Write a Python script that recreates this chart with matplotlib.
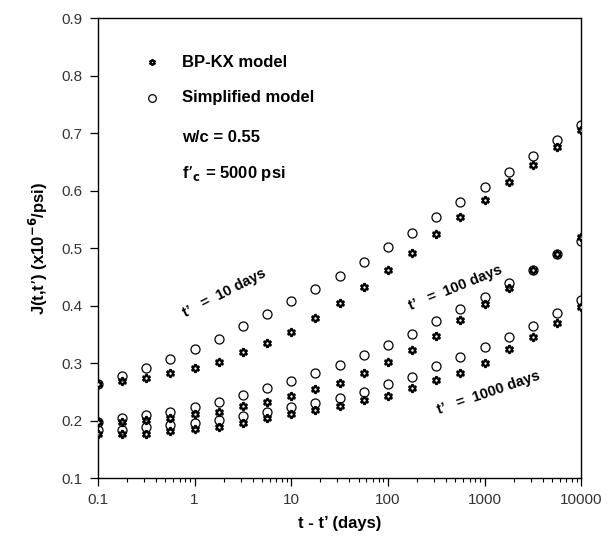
import numpy as np
import matplotlib.pyplot as plt
from matplotlib.ticker import FixedLocator, FuncFormatter

plt.rcParams['font.family'] = ['Liberation Sans', 'DejaVu Sans']

# load duration t - t' (days), 4 points per decade
t = [0.1, 0.178, 0.316, 0.562, 1, 1.78, 3.16, 5.62, 10, 17.8, 31.6, 56.2,
     100, 178, 316, 562, 1000, 1780, 3160, 5620, 10000]

# BP-KX model (stars)
bp_10 = [0.263, 0.269, 0.274, 0.282, 0.292, 0.301, 0.319, 0.334, 0.354, 0.378, 0.404,
         0.432, 0.461, 0.491, 0.524, 0.554, 0.584, 0.615, 0.644, 0.676, 0.706]
bp_100 = [0.198, 0.198, 0.201, 0.205, 0.211, 0.215, 0.225, 0.233, 0.243, 0.254, 0.266,
          0.282, 0.301, 0.323, 0.347, 0.374, 0.403, 0.431, 0.461, 0.489, 0.520]
bp_1000 = [0.176, 0.176, 0.177, 0.181, 0.185, 0.189, 0.196, 0.204, 0.211, 0.218, 0.226,
           0.236, 0.243, 0.256, 0.270, 0.283, 0.300, 0.325, 0.346, 0.370, 0.398]

# Simplified model (circles)
sm_10 = [0.263, 0.277, 0.291, 0.307, 0.325, 0.342, 0.364, 0.385, 0.407, 0.429, 0.452,
         0.475, 0.501, 0.526, 0.554, 0.580, 0.606, 0.633, 0.660, 0.687, 0.714]
sm_100 = [0.198, 0.204, 0.209, 0.214, 0.224, 0.232, 0.244, 0.256, 0.269, 0.282, 0.297,
          0.314, 0.331, 0.350, 0.373, 0.394, 0.415, 0.439, 0.461, 0.490, 0.512]
sm_1000 = [0.183, 0.184, 0.188, 0.192, 0.196, 0.201, 0.207, 0.214, 0.223, 0.231, 0.240,
           0.250, 0.263, 0.276, 0.295, 0.311, 0.327, 0.345, 0.365, 0.387, 0.410]

xticks = [0.1, 1, 10, 100, 1000, 10000]
yticks = [0.1, 0.2, 0.3, 0.4, 0.5, 0.6, 0.7, 0.8, 0.9]

fig = plt.figure(figsize=(6.08, 5.38), dpi=100)
ax = fig.add_axes([0.161, 0.1115, 0.795, 0.855])

star = dict(marker=(6, 1, 0), ms=6, mfc='white', mec='black', mew=1.6, ls='none', zorder=3)
circ = dict(marker='o', ms=6.5, mfc='none', mec='black', mew=0.9, ls='none', zorder=4)

for bp in [bp_10, bp_100, bp_1000]:
    ax.plot(t, bp, **star)
for sm in [sm_10, sm_100, sm_1000]:
    ax.plot(t, sm, **circ)

ax.set_xscale('log')
ax.set_xlim(0.1, 10000)
ax.set_ylim(0.1, 0.9)
ax.xaxis.set_major_locator(FixedLocator(xticks))
ax.xaxis.set_major_formatter(FuncFormatter(lambda v, p: '%g' % v))
ax.set_yticks(yticks)
ax.yaxis.set_major_formatter(FuncFormatter(lambda v, p: '%.1f' % v))
ax.tick_params(axis='both', which='major', direction='out', length=6, width=0.9,
               labelsize=11, labelcolor='#333333', pad=5)
ax.tick_params(axis='x', which='minor', direction='out', length=3, width=0.8)
for s in ax.spines.values():
    s.set_linewidth(1.0)

ax.set_xlabel("t - t’ (days)", fontsize=12, fontweight='bold', labelpad=6)
ax.set_ylabel("J(t,t’) (x10$^{\\mathbf{-6}}$/psi)", fontsize=12, fontweight='bold', labelpad=8)

# in-plot key
key_star = dict(star, ms=4.5, mew=1.4)
key_circ = dict(circ, ms=5.5)
ax.plot([0.36], [0.823], **key_star)
ax.plot([0.36], [0.761], **key_circ)
kw = dict(fontsize=12, fontweight='bold', va='center')
ax.text(0.74, 0.823, 'BP-KX model', **kw)
ax.text(0.74, 0.761, 'Simplified model', **kw)
ax.text(0.74, 0.692, 'w/c = 0.55', **kw)
ax.text(0.74, 0.630, 'f’$_\\mathbf{c}$ = 5000 psi', **kw)

lab = dict(fontsize=10.5, fontweight='bold', ha='center', va='center', rotation_mode='anchor')
ax.text(2.04, 0.422, 't’   =  10 days', rotation=27, **lab)
ax.text(497, 0.43, 't’   =  100 days', rotation=22, **lab)
ax.text(1090, 0.248, 't’   =  1000 days', rotation=19, **lab)

fig.savefig('out.png', dpi=100)
